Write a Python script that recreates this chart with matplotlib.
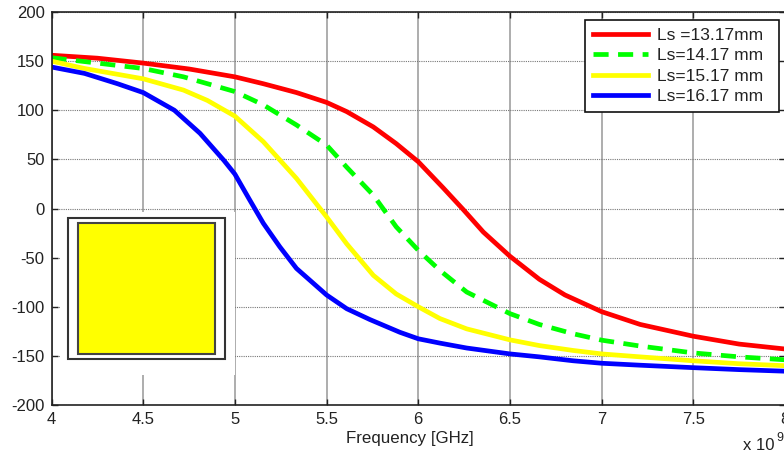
import matplotlib
matplotlib.use("Agg")
import matplotlib.pyplot as plt
from matplotlib.patches import Rectangle

plt.rcParams['font.family'] = ['Liberation Sans', 'DejaVu Sans']
plt.rcParams['axes.unicode_minus'] = False

W, H = 784, 454

# Frequency in units of 1e9 Hz, phase in degrees, read per curve
f_13 = [4, 4.25, 4.5, 4.75, 5, 5.155, 5.336, 5.5, 5.61, 5.755, 5.88, 6, 6.136,
        6.245, 6.355, 6.5, 6.66, 6.8, 7, 7.21, 7.5, 7.75, 8]
ls_13 = [156, 153, 148, 142, 134, 127, 118, 108, 98.6, 83, 66, 47.6, 21,
         -1, -24, -48.6, -72, -88, -105, -118, -130, -138, -143]
f_14 = [4, 4.5, 4.72, 5, 5.155, 5.336, 5.5, 5.61, 5.755, 5.88, 6, 6.118, 6.264,
        6.5, 6.66, 6.845, 7, 7.21, 7.5, 7.75, 8]
ls_14 = [153.5, 142.5, 134, 119, 105.5, 85, 64.6, 42, 13.6, -18.7, -42.5, -63, -85,
         -107, -118, -127.5, -134, -140, -147, -151, -154]
f_15 = [4, 4.18, 4.5, 4.72, 4.85, 5, 5.155, 5.336, 5.5, 5.61, 5.755, 5.88, 6, 6.118,
        6.264, 6.5, 6.66, 6.845, 7, 7.21, 7.5, 7.75, 8]
ls_15 = [150, 142.5, 132, 120.5, 110, 94, 68, 30.6, -8.5, -36, -68, -87, -100, -112,
         -122.5, -133.7, -139.5, -144.5, -148, -151, -155, -158, -160]
f_16 = [4, 4.18, 4.36, 4.5, 4.67, 4.81, 4.94, 5, 5.08, 5.155, 5.245, 5.336, 5.5, 5.61,
        5.736, 5.9, 6, 6.118, 6.264, 6.5, 6.66, 6.845, 7, 7.21, 7.5, 7.75, 8]
ls_16 = [144, 137.5, 127, 118, 100, 76.5, 49, 35, 9, -15, -39, -61, -88, -102,
         -113, -126, -132.6, -137, -142, -148, -151, -155, -157.5, -159.5, -162, -164, -165.6]

labels = ['Ls =13.17mm', 'Ls=14.17 mm', 'Ls=15.17 mm', 'Ls=16.17 mm']
x_ticks = [4, 4.5, 5, 5.5, 6, 6.5, 7, 7.5, 8]
x_ticklabels = ['4', '4.5', '5', '5.5', '6', '6.5', '7', '7.5', '8']
y_ticks = [-200, -150, -100, -50, 0, 50, 100, 150, 200]


def px_box(x0, y0, x1, y1):
    """Rectangle from pixel coords (top-left origin) to figure fractions."""
    return x0 / W, 1 - y1 / H, (x1 - x0) / W, (y1 - y0) / H


fig = plt.figure(figsize=(W / 100, H / 100), dpi=100)
ax = fig.add_axes(px_box(51.5, 12, 785, 405))

ax.plot(f_13, ls_13, color='#ff0000', lw=3.4, label=labels[0])
ax.plot(f_14, ls_14, color='#00ff00', lw=3.4, ls=(0, (3.2, 2.0)), label=labels[1])
ax.plot(f_15, ls_15, color='#ffff00', lw=3.4, label=labels[2])
ax.plot(f_16, ls_16, color='#0000ff', lw=3.4, label=labels[3])

ax.set_xlim(4, 8)
ax.set_ylim(-200, 200)
ax.set_xticks(x_ticks)
ax.set_xticklabels(x_ticklabels)
ax.set_yticks(y_ticks)
ax.tick_params(direction='in', top=True, right=True, length=4, width=1,
               labelsize=12, pad=5, colors='#222222')
ax.xaxis.grid(True, color='#a0a0a0', lw=1.2)
ax.yaxis.grid(True, color='#777777', lw=0.8, ls=(0, (1, 1)))
ax.set_axisbelow(True)
for s in ax.spines.values():
    s.set_linewidth(1.2)
    s.set_color('#222222')

fig.text(410 / W, 1 - 438 / H, 'Frequency [GHz]', fontsize=12.2, ha='center', va='center', color='#222222')
fig.text(743 / W, 1 - 445 / H, 'x 10', fontsize=12, ha='left', va='center', color='#222222')
fig.text(776 / W, 1 - 438 / H, '9', fontsize=9, ha='left', va='center', color='#222222')

# inset sketch of the unit cell, white patch hides the grid behind it
for box, fc, ec, lw, z in [((60, 212, 235, 375), 'white', 'none', 0, 5),
                           ((67.5, 218, 225, 358.5), 'white', '#333333', 1.5, 6),
                           ((77.5, 222.5, 215, 354), '#ffff00', '#444444', 1.5, 7)]:
    x, y, w, h = px_box(*box)
    fig.add_artist(Rectangle((x, y), w, h, transform=fig.transFigure, fc=fc, ec=ec, lw=lw, zorder=z))

leg = ax.legend(loc='upper left', bbox_to_anchor=px_box(585, 20, 779, 20), mode='expand',
                bbox_transform=fig.transFigure, fontsize=12.5, fancybox=False, framealpha=1,
                edgecolor='#111111', borderaxespad=0, labelspacing=0.3, handlelength=3.2,
                handletextpad=0.5, borderpad=0.45, labelcolor='#222222')
leg.get_frame().set_linewidth(1.2)
leg.set_zorder(10)

fig.savefig('out.png', dpi=100)
